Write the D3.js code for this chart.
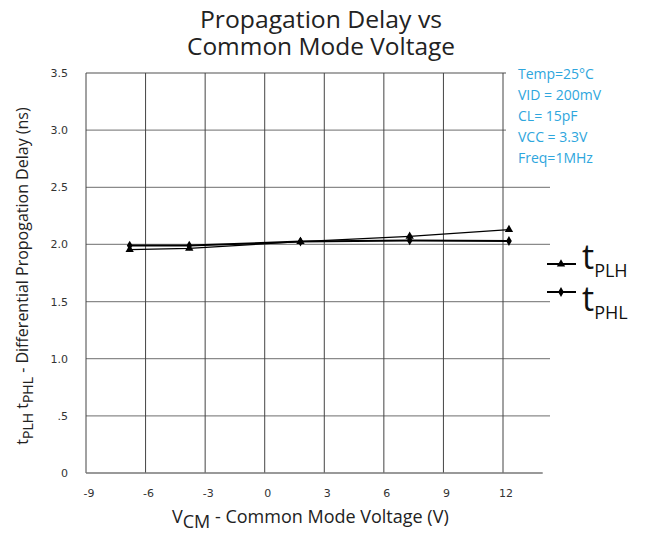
<!DOCTYPE html>
<html>
<head>
<meta charset="utf-8">
<script src="https://cdn.jsdelivr.net/npm/d3@7"></script>
<style>
  body { margin: 0; background: #fff; }
  svg { display: block; }
</style>
</head>
<body>
<div id="chart"></div>
<script>
// values
var vcm = [-6.8, -3.8, 1.8, 7.3, 12.3];
var tPLH = [1.955, 1.965, 2.025, 2.07, 2.13];
var tPHL = [1.99, 1.99, 2.025, 2.035, 2.03];
var xTicks = [-9, -6, -3, 0, 3, 6, 9, 12];
var yTicks = [0, 0.5, 1.0, 1.5, 2.0, 2.5, 3.0, 3.5];
var yTickLabels = ["0", ".5", "1.0", "1.5", "2.0", "2.5", "3.0", "3.5"];
var notes = ["Temp=25°C", "VID = 200mV", "CL= 15pF", "VCC = 3.3V", "Freq=1MHz"];

var W = 650, H = 533;
var svg = d3.select("#chart").append("svg")
    .attr("width", W).attr("height", H);

var x = d3.scaleLinear().domain([-9, 12]).range([86, 503]);
var y = d3.scaleLinear().domain([0, 3.5]).range([473, 73]);
var gridRight = 550, axisRight = x(14);

// title (narrow glyphs like the original)
var title = svg.append("g")
    .attr("text-anchor", "middle")
    .style("font-family", "'Open Sans', sans-serif")
    .style("font-size", "23px")
    .style("white-space", "pre")
    .attr("fill", "#222");
title.append("text").attr("x", 321).attr("y", 28)
    .attr("textLength", 242).attr("lengthAdjust", "spacingAndGlyphs")
    .text("Propagation Delay  vs");
title.append("text").attr("x", 321).attr("y", 55)
    .attr("textLength", 268).attr("lengthAdjust", "spacingAndGlyphs")
    .text("Common Mode Voltage");

// horizontal grid lines
svg.append("g").selectAll("line")
    .data(yTicks.slice(1))
    .join("line")
    .attr("x1", x(-9)).attr("x2", gridRight)
    .attr("y1", d => y(d)).attr("y2", d => y(d))
    .attr("stroke", "#8a8a8a").attr("stroke-width", 1.3);

// vertical grid lines
svg.append("g").selectAll("line")
    .data(xTicks)
    .join("line")
    .attr("x1", d => x(d)).attr("x2", d => x(d))
    .attr("y1", y(3.5)).attr("y2", y(0))
    .attr("stroke", "#444").attr("stroke-width", 1);

// bottom axis line
svg.append("line")
    .attr("x1", x(-9)).attr("x2", axisRight)
    .attr("y1", y(0)).attr("y2", y(0))
    .attr("stroke", "#777").attr("stroke-width", 1.3);

// tick labels
svg.append("g").selectAll("text")
    .data(yTicks)
    .join("text")
    .attr("x", 68).attr("y", d => y(d) + 4)
    .attr("text-anchor", "end")
    .style("font-family", "'DejaVu Sans', sans-serif")
    .style("font-size", "11px")
    .attr("fill", "#333")
    .text((d, i) => yTickLabels[i]);

svg.append("g").selectAll("text")
    .data(xTicks)
    .join("text")
    .attr("x", d => x(d) + 3).attr("y", 497)
    .attr("text-anchor", "middle")
    .style("font-family", "'DejaVu Sans', sans-serif")
    .style("font-size", "11px")
    .attr("fill", "#333")
    .text(d => d);

// notes box (white background hides grid lines under it)
svg.append("rect")
    .attr("x", 506).attr("y", 62).attr("width", 64).attr("height", 112)
    .attr("fill", "#fff");
svg.append("g").selectAll("text")
    .data(notes)
    .join("text")
    .attr("x", 518).attr("y", (d, i) => 79 + i * 21)
    .style("font-family", "'Open Sans', sans-serif")
    .style("font-size", "14px")
    .attr("fill", "#2ea6dd")
    .text(d => d);

// series
var line = d3.line().x(d => x(d[0])).y(d => y(d[1]));
var plh = vcm.map((v, i) => [v, tPLH[i]]);
var phl = vcm.map((v, i) => [v, tPHL[i]]);

svg.append("path").datum(phl).attr("d", line)
    .attr("fill", "none").attr("stroke", "#000").attr("stroke-width", 2);
svg.append("path").datum(plh).attr("d", line)
    .attr("fill", "none").attr("stroke", "#000").attr("stroke-width", 1.2);

var tri = d3.symbol().type(d3.symbolTriangle).size(30);
var dia = d3.symbol().type(d3.symbolDiamond).size(28);

svg.append("g").selectAll("path")
    .data(phl).join("path")
    .attr("d", dia)
    .attr("transform", d => `translate(${x(d[0])},${y(d[1])})`)
    .attr("fill", "#000");
svg.append("g").selectAll("path")
    .data(plh).join("path")
    .attr("d", tri)
    .attr("transform", d => `translate(${x(d[0])},${y(d[1])})`)
    .attr("fill", "#000");

// legend
var legend = [
  {sub: "PLH", sym: tri, y: 264, ty: 269},
  {sub: "PHL", sym: dia, y: 292, ty: 311}
];
var lg = svg.append("g").selectAll("g")
    .data(legend).join("g");
lg.append("line").attr("x1", 547).attr("x2", 576)
    .attr("y1", d => d.y).attr("y2", d => d.y)
    .attr("stroke", "#000").attr("stroke-width", 2);
lg.append("path").attr("d", d => d.sym())
    .attr("transform", d => `translate(561,${d.y})`).attr("fill", "#000");
var lt = lg.append("text")
    .attr("x", 582).attr("y", d => d.ty)
    .style("font-family", "'Open Sans', sans-serif")
    .attr("fill", "#111");
lt.append("tspan").style("font-size", "34px").text("t");
lt.append("tspan").style("font-size", "18px").attr("dy", 8).text(d => d.sub);

// x label
var xl = svg.append("text")
    .attr("x", 172).attr("y", 523)
    .style("font-family", "'Open Sans', sans-serif")
    .style("font-size", "18px")
    .attr("fill", "#222");
xl.append("tspan").text("V");
xl.append("tspan").attr("dy", 5).text("CM");
xl.append("tspan").attr("dy", -5).text(" - Common Mode Voltage (V)");

// y label
var yl = svg.append("text")
    .attr("transform", "translate(28,276) rotate(-90)")
    .attr("text-anchor", "middle")
    .style("font-family", "'Open Sans', sans-serif")
    .style("font-size", "16px")
    .attr("fill", "#222");
yl.append("tspan").text("t");
yl.append("tspan").attr("dy", 5).style("font-size", "14px").text("PLH");
yl.append("tspan").attr("dy", -5).text(" t");
yl.append("tspan").attr("dy", 5).style("font-size", "14px").text("PHL");
yl.append("tspan").attr("dy", -5).text(" - Differential Propogation Delay (ns)");
</script>
</body>
</html>
